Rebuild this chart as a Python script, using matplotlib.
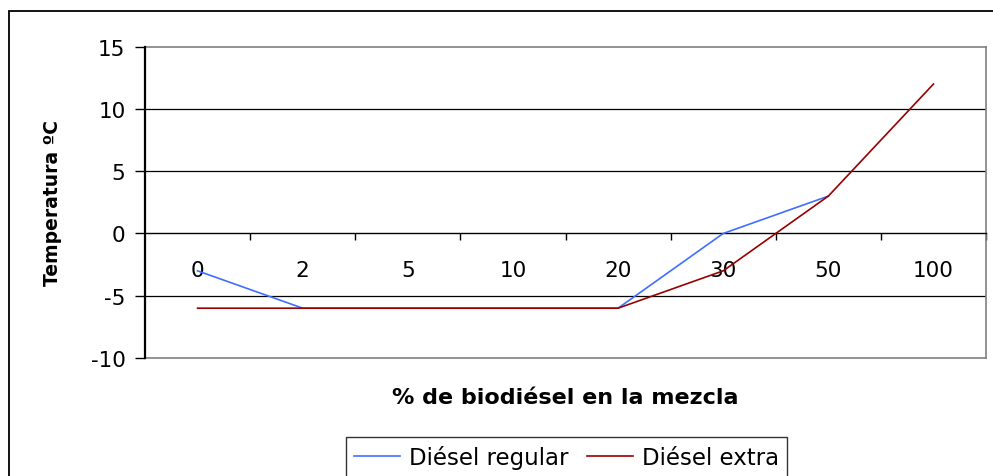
import numpy as np
import matplotlib
matplotlib.use("Agg")
import matplotlib.pyplot as plt
from matplotlib.patches import Rectangle

categories = ['0', '2', '5', '10', '20', '30', '50', '100']
regular = [-3, -6, -6, -6, -6, 0, 3, np.nan]
extra = [-6, -6, -6, -6, -6, -3, 3, 12]
yticks = [-10, -5, 0, 5, 10, 15]

W, H = 993, 477
fig = plt.figure(figsize=(W / 100, H / 100), dpi=100)
plt.rcParams['font.family'] = ['DejaVu Sans']

L, R, T, B = 145, 986, 47.7, 359
ax = fig.add_axes([L / W, 1 - B / H, (R - L) / W, (B - T) / H])

x = np.arange(len(categories))
ax.plot(x, regular, color='#3F6FFF', lw=1.2, label='Diésel regular', zorder=3)
ax.plot(x, extra, color='#990000', lw=1.2, label='Diésel extra', zorder=3)

ax.set_xlim(-0.5, len(categories) - 0.5)
ax.set_ylim(-10, 15)
ax.set_yticks(yticks)
ax.set_yticklabels([str(v) for v in yticks], fontsize=15.5)
ax.tick_params(axis='y', direction='out', length=7, width=1, pad=7, color='black')

for v in yticks:
    if v in (-10, 15, 0):
        continue
    ax.axhline(v, color='black', lw=0.9, zorder=1)

# spines
for s in ['top', 'right']:
    ax.spines[s].set_color('#808080')
    ax.spines[s].set_linewidth(1.2)
ax.spines['left'].set_color('black')
ax.spines['left'].set_linewidth(1.6)
ax.spines['left'].set_zorder(4)
ax.spines['bottom'].set_position(('data', 0))
ax.spines['bottom'].set_color('black')
ax.spines['bottom'].set_linewidth(1.0)
ax.axhline(-10, color='#808080', lw=1.2, zorder=1, clip_on=False)

# category axis: ticks at boundaries, labels at centers
ax.set_xticks(np.arange(0.5, len(categories) - 0.5 + 1e-9, 1.0))
ax.set_xticklabels([])
ax.tick_params(axis='x', which='major', direction='out', length=5, width=1, color='black')
ax.set_xticks(x, minor=True)
ax.set_xticklabels(categories, minor=True, fontsize=15.5)
ax.tick_params(axis='x', which='minor', length=0, pad=19)

fig.text((L + R) / 2 / W, 1 - 398 / H, '% de biodiésel en la mezcla',
         ha='center', va='center', fontsize=16, fontweight='bold')
fig.text(53 / W, 1 - 202.5 / H, 'Temperatura ºC', rotation=90,
         ha='center', va='center', fontsize=13.5, fontweight='bold')

leg = fig.legend(loc='upper left', bbox_to_anchor=(346 / W, 1 - 438 / H), ncol=2,
                 fontsize=16.5, frameon=True, fancybox=False, edgecolor='black',
                 handlelength=2.0, handletextpad=0.4, columnspacing=0.8,
                 borderpad=0.35, borderaxespad=0)
leg.get_frame().set_linewidth(1.0)

fig.patches.append(Rectangle((9 / W, -0.05), 1.1, 1 - 12 / H + 0.05,
                             transform=fig.transFigure, fill=False,
                             edgecolor='black', lw=1.3, clip_on=False))

fig.savefig('out.png', dpi=100)
